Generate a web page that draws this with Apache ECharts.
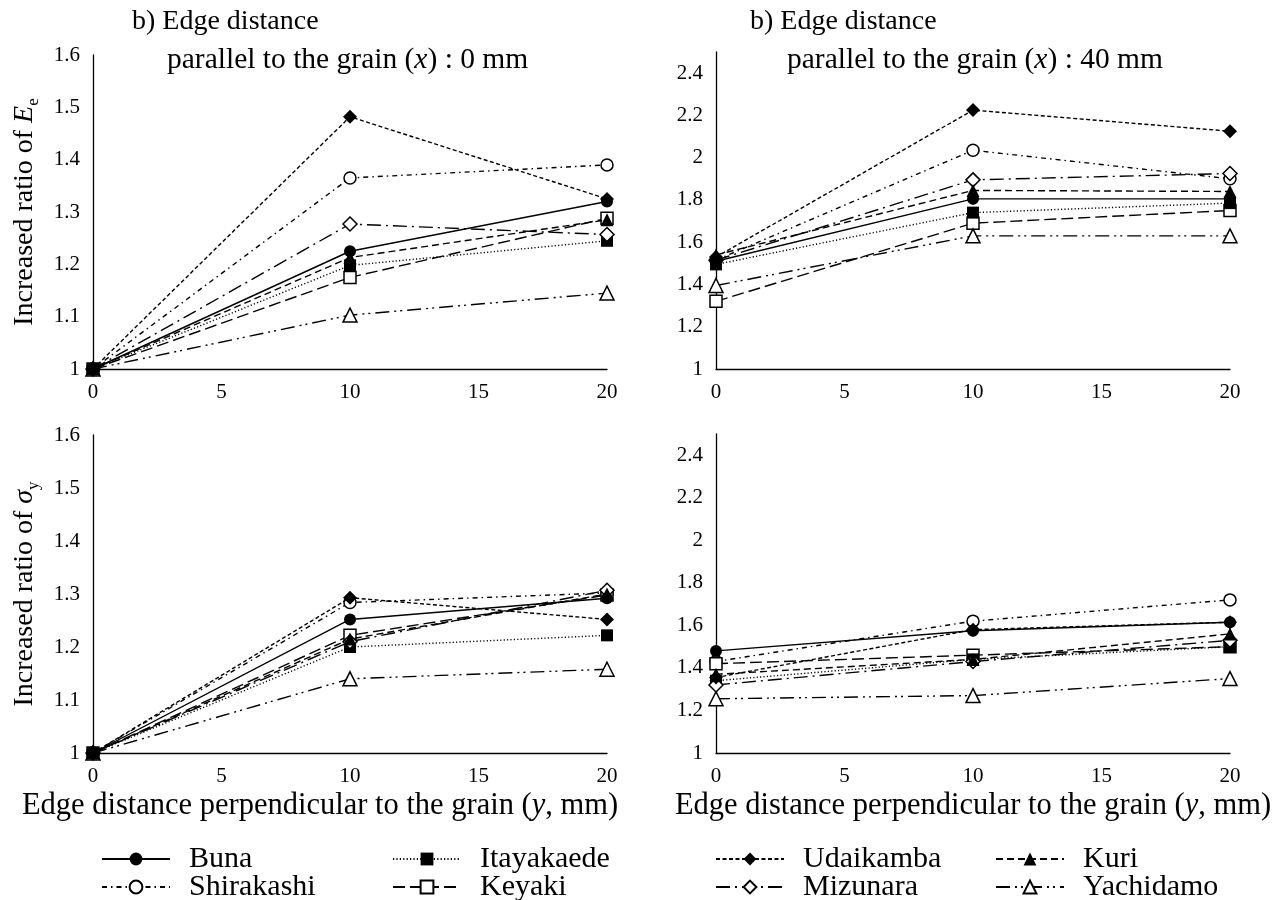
<!DOCTYPE html>
<html>
<head>
<meta charset="utf-8">
<script src="https://cdn.jsdelivr.net/npm/echarts@6/dist/echarts.min.js"></script>
<style>
  html, body { margin: 0; padding: 0; background: #fff; }
  #chart { width: 1279px; height: 900px; }
</style>
</head>
<body>
<div id="chart"></div>
<script>
// Wood species, in legend order
const species = ['Buna', 'Itayakaede', 'Shirakashi', 'Keyaki', 'Udaikamba', 'Kuri', 'Mizunara', 'Yachidamo'];

// Edge distance perpendicular to the grain (y, mm)
const edgeY = [0, 10, 20];

// Increased ratio of Ee, edge distance parallel to the grain x = 0 mm (one row per species)
const eeX0 = [
  [1, 1.225, 1.320],
  [1, 1.198, 1.245],
  [1, 1.365, 1.390],
  [1, 1.175, 1.288],
  [1, 1.482, 1.325],
  [1, 1.213, 1.285],
  [1, 1.277, 1.257],
  [1, 1.103, 1.145]
];

// Increased ratio of Ee, x = 40 mm
const eeX40 = [
  [1.510, 1.805, 1.805],
  [1.495, 1.740, 1.785],
  [1.515, 2.035, 1.900],
  [1.320, 1.690, 1.750],
  [1.530, 2.225, 2.125],
  [1.540, 1.845, 1.840],
  [1.515, 1.895, 1.925],
  [1.395, 1.630, 1.630]
];

// Increased ratio of sigma_y, x = 0 mm
const syX0 = [
  [1, 1.252, 1.292],
  [1, 1.200, 1.222],
  [1, 1.284, 1.302],
  [1, 1.222, 1.298],
  [1, 1.293, 1.252],
  [1, 1.215, 1.300],
  [1, 1.210, 1.307],
  [1, 1.140, 1.158]
];

// Increased ratio of sigma_y, x = 40 mm
const syX40 = [
  [1.480, 1.575, 1.615],
  [1.340, 1.440, 1.500],
  [1.430, 1.620, 1.720],
  [1.420, 1.460, 1.500],
  [1.355, 1.580, 1.615],
  [1.370, 1.440, 1.560],
  [1.320, 1.430, 1.530],
  [1.255, 1.270, 1.350]
];

const panels = [eeX0, eeX40, syX0, syX40];

// ---- styling ----
const FONT = '"Liberation Serif", "Times New Roman", serif';
const INK = '#000';

const dash = {
  Buna: 'solid',
  Itayakaede: [1.2, 2.2],
  Shirakashi: [5, 4, 1.5, 4],
  Keyaki: [12, 5],
  Udaikamba: [4, 2.5],
  Kuri: [7, 4],
  Mizunara: [14, 5, 2, 5],
  Yachidamo: [14, 5, 2, 4, 2, 5]
};
// [symbol, filled, size, stacking order]
const marker = {
  Buna: ['circle', true, 12, 6],
  Itayakaede: ['rect', true, 12, 4],
  Shirakashi: ['circle', false, 12, 1],
  Keyaki: ['rect', false, 12, 2],
  Udaikamba: ['diamond', true, 14, 7],
  Kuri: ['triangle', true, 13, 8],
  Mizunara: ['diamond', false, 14, 5],
  Yachidamo: ['triangle', false, 14, 3]
};

const grids = [
  { left: 93, top: 55, width: 514, height: 314 },
  { left: 716, top: 52, width: 514, height: 317 },
  { left: 93, top: 435, width: 514, height: 318 },
  { left: 716, top: 434, width: 514, height: 319 }
];
const yRange = [
  { min: 1, max: 1.6, interval: 0.1 },
  { min: 1, max: 2.5, interval: 0.2 },
  { min: 1, max: 1.6, interval: 0.1 },
  { min: 1, max: 2.5, interval: 0.2 }
];

const tickLabel = { color: INK, fontFamily: FONT, fontSize: 21 };

const xAxes = grids.map((g, i) => ({
  type: 'value', gridIndex: i, min: 0, max: 20, interval: 5,
  axisLine: { onZero: false, lineStyle: { color: INK, width: 1.3 } },
  axisTick: { show: false },
  splitLine: { show: false },
  axisLabel: Object.assign({ margin: 13 }, tickLabel)
}));
const yAxes = grids.map((g, i) => ({
  type: 'value', gridIndex: i,
  min: yRange[i].min, max: yRange[i].max, interval: yRange[i].interval,
  axisLine: { show: true, lineStyle: { color: INK, width: 1.3 } },
  axisTick: { show: false },
  splitLine: { show: false },
  axisLabel: Object.assign({
    margin: 13,
    showMaxLabel: yRange[i].max < 2,
    formatter: v => String(Math.round(v * 10) / 10)
  }, tickLabel)
}));

const series = [];
panels.forEach((panel, p) => {
  species.forEach((name, s) => {
    const [sym, filled, size, order] = marker[name];
    series.push({
      name, type: 'line',
      xAxisIndex: p, yAxisIndex: p,
      data: edgeY.map((y, k) => [y, panel[s][k]]),
      symbol: sym, symbolSize: size, showAllSymbol: true,
      lineStyle: { color: INK, width: 1.4, type: dash[name] },
      itemStyle: { color: filled ? INK : '#fff', borderColor: INK, borderWidth: filled ? 0 : 1.5 },
      emphasis: { disabled: true },
      animation: false,
      z: 2 + order
    });
  });
});

// One legend box per entry, laid out as a 2-row grid under each pair of panels
const legendText = { color: INK, fontFamily: FONT, fontSize: 30, padding: [0, 0, 0, 14] };
const legendSlots = [
  ['Buna', 101, 0], ['Shirakashi', 101, 1],
  ['Itayakaede', 392, 0], ['Keyaki', 392, 1],
  ['Udaikamba', 715, 0], ['Mizunara', 715, 1],
  ['Kuri', 995, 0], ['Yachidamo', 995, 1]
];
const legends = legendSlots.map(([name, left, row]) => ({
  data: [name], left, top: 844 + row * 28, padding: 0,
  itemWidth: 68, itemHeight: 16,
  selectedMode: false, textStyle: legendText
}));

const textStyle = (text, size, extra) => Object.assign({
  text, fill: INK, font: size + 'px ' + FONT,
  rich: {
    i: { fontStyle: 'italic', fontSize: size, fontFamily: FONT, fill: INK, lineHeight: size + 6 },
    n: { fontSize: size, fontFamily: FONT, fill: INK, lineHeight: size + 6 },
    s: { fontSize: Math.round(size * 0.62), fontFamily: FONT, fill: INK, lineHeight: Math.round(size * 0.62), verticalAlign: 'bottom' }
  }
}, extra || {});

const mid = { verticalAlign: 'middle' };
const ctr = { align: 'center', verticalAlign: 'middle' };
const xTitle = '{n|Edge distance perpendicular to the grain (}{i|y}{n|, mm)}';
const graphics = [
  { type: 'text', x: 132, y: 22, style: textStyle('b) Edge distance', 28, mid) },
  { type: 'text', x: 167, y: 60, style: textStyle('{n|parallel to the grain (}{i|x}{n|) : 0 mm}', 29.5, mid) },
  { type: 'text', x: 750, y: 22, style: textStyle('b) Edge distance', 28, mid) },
  { type: 'text', x: 787, y: 60, style: textStyle('{n|parallel to the grain (}{i|x}{n|) : 40 mm}', 29.5, mid) },
  { type: 'text', x: 320, y: 806, style: textStyle(xTitle, 30.5, ctr) },
  { type: 'text', x: 973, y: 806, style: textStyle(xTitle, 30.5, ctr) },
  { type: 'text', x: 25, y: 212, rotation: Math.PI / 2, style: textStyle('{n|Increased ratio of }{i|E}{s|e}', 28, ctr) },
  { type: 'text', x: 25, y: 594, rotation: Math.PI / 2, style: textStyle('{n|Increased ratio of }{i|σ}{s|y}', 28, ctr) }
];

const chart = echarts.init(document.getElementById('chart'), null, { renderer: 'canvas' });
chart.setOption({
  backgroundColor: '#fff',
  animation: false,
  grid: grids,
  xAxis: xAxes,
  yAxis: yAxes,
  legend: legends,
  series,
  graphic: graphics
});
</script>
</body>
</html>
